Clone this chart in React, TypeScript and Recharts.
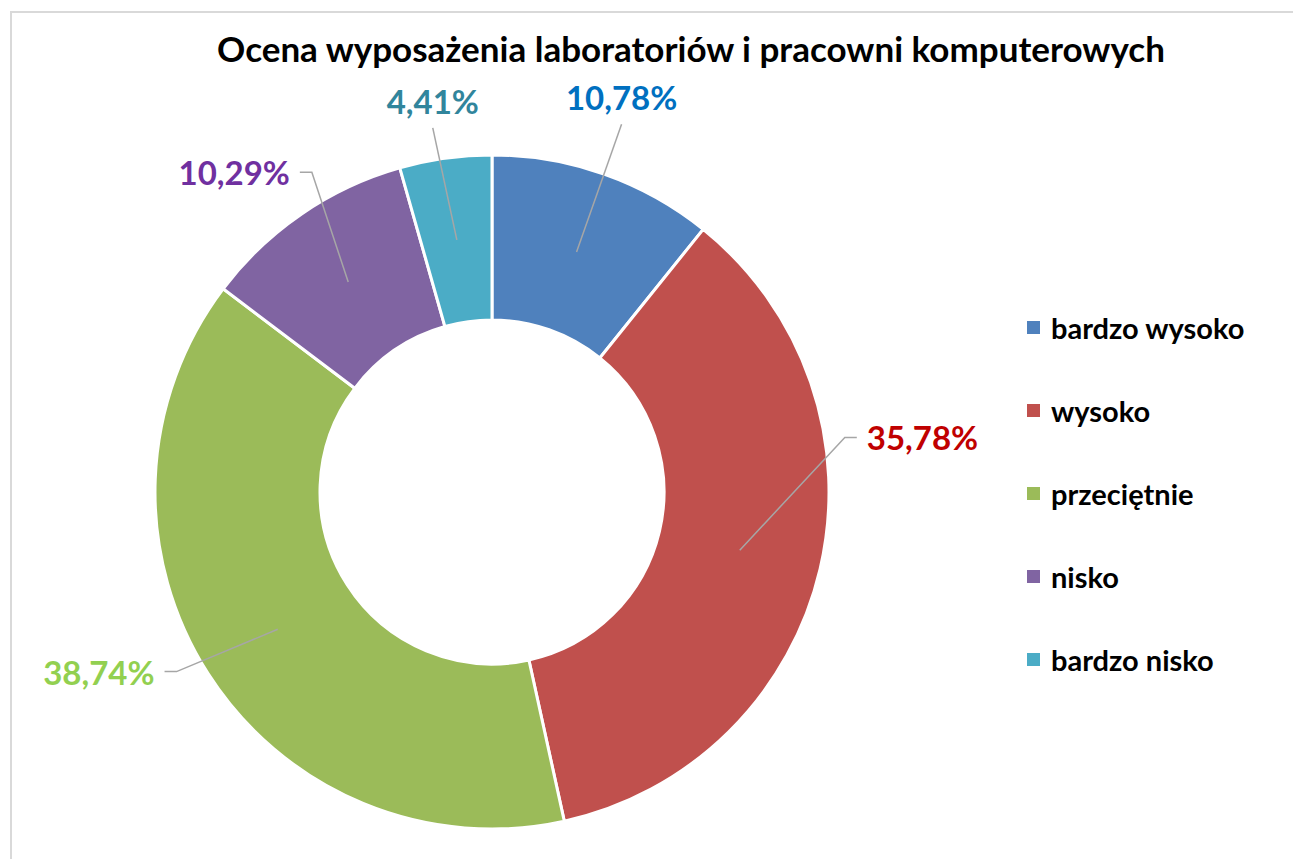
import React from 'react';
import { PieChart, Pie, Cell, Legend } from 'recharts';

const TITLE = 'Ocena wyposażenia laboratoriów i pracowni komputerowych';
const categories = ['bardzo wysoko', 'wysoko', 'przeciętnie', 'nisko', 'bardzo nisko'];
const values = [10.78, 35.78, 38.74, 10.29, 4.41];
const sliceColors = ['#4F81BD', '#C0504D', '#9BBB59', '#8064A2', '#4BACC6'];
const labelColors = ['#0070C0', '#C00000', '#92D050', '#7030A0', '#31859C'];

// label placement: extra radius beyond outer edge, angle shift (deg, recharts convention), side
const labelLayout = [
  { ext: 53, shift: 0, side: 'top' },
  { ext: 20, shift: 22, side: 'right' },
  { ext: 26, shift: -3, side: 'left' },
  { ext: 30, shift: -5, side: 'left' },
  { ext: 32, shift: 1.3, side: 'top' },
];

const data = categories.map((name, i) => ({ name, value: values[i] }));

const FONT = 'Lato, "Open Sans", "Liberation Sans", sans-serif';
const RADIAN = Math.PI / 180;

const fmt = (v: number) => v.toFixed(2).replace('.', ',') + '%';

const renderLabel = (props: any) => {
  const { cx, cy, midAngle, innerRadius, outerRadius, index, value } = props;
  const lay = labelLayout[index];
  const midR = (innerRadius + outerRadius) / 2;
  const sx = cx + midR * Math.cos(-midAngle * RADIAN);
  const sy = cy + midR * Math.sin(-midAngle * RADIAN);
  const a = (midAngle + lay.shift) * RADIAN;
  const er = outerRadius + lay.ext;
  const ex = cx + er * Math.cos(-a);
  const ey = cy + er * Math.sin(-a);
  let points = `${sx},${sy} ${ex},${ey}`;
  let tx = ex;
  let ty = ey - 14;
  let anchor: 'start' | 'middle' | 'end' = 'middle';
  if (lay.side === 'right') {
    points += ` ${ex + 12},${ey}`;
    tx = ex + 22;
    ty = ey + 13;
    anchor = 'start';
  } else if (lay.side === 'left') {
    points += ` ${ex - 12},${ey}`;
    tx = ex - 22;
    ty = ey + 13;
    anchor = 'end';
  }
  return (
    <g key={`lbl-${index}`}>
      <polyline points={points} fill="none" stroke="#A6A6A6" strokeWidth={1.5} />
      <text
        x={tx}
        y={ty}
        textAnchor={anchor}
        fill={labelColors[index]}
        fontFamily={FONT}
        fontWeight={700}
        fontSize={33}
      >
        {fmt(value)}
      </text>
    </g>
  );
};

const renderLegend = (props: any) => {
  const payload = [...(props.payload || [])].sort(
    (a: any, b: any) => categories.indexOf(a.value) - categories.indexOf(b.value)
  );
  return (
    <div style={{ fontFamily: FONT }}>
      {payload.map((entry: any, i: number) => (
        <div
          key={`leg-${i}`}
          style={{ display: 'flex', alignItems: 'center', height: 83 }}
        >
          <span
            style={{
              display: 'inline-block',
              width: 13,
              height: 13,
              background: entry.color,
              marginRight: 11,
            }}
          />
          <span style={{ fontSize: 29, fontWeight: 700, color: '#000' }}>{entry.value}</span>
        </div>
      ))}
    </div>
  );
};

export default function App() {
  return (
    <div style={{ position: 'absolute', left: 0, top: 0, width: 1293, height: 859, background: '#fff', overflow: 'hidden' }}>
      <div
        style={{
          position: 'absolute',
          left: 10,
          top: 11,
          width: 1400,
          height: 1000,
          border: '2px solid #D9D9D9',
        }}
      />
      <div
        style={{
          position: 'absolute',
          left: 0,
          top: 28,
          width: 1382,
          textAlign: 'center',
          fontFamily: FONT,
          fontWeight: 700,
          fontSize: 35,
          color: '#000',
          lineHeight: '40px',
        }}
      >
        {TITLE}
      </div>
      <div style={{ position: 'absolute', left: 0, top: 0 }}>
        <PieChart width={1293} height={859} margin={{ top: 0, right: 0, bottom: 0, left: 0 }}>
          <Pie
            data={data}
            dataKey="value"
            nameKey="name"
            cx={492}
            cy={492}
            innerRadius={172}
            outerRadius={337}
            startAngle={90}
            endAngle={-270}
            stroke="#FFFFFF"
            strokeWidth={3}
            label={renderLabel}
            labelLine={false}
            isAnimationActive={false}
          >
            {data.map((d, i) => (
              <Cell key={`c-${i}`} fill={sliceColors[i]} />
            ))}
          </Pie>
          <Legend
            layout="vertical"
            align="right"
            verticalAlign="top"
            content={renderLegend}
            wrapperStyle={{ left: 1027, top: 286, width: 266 }}
          />
        </PieChart>
      </div>
    </div>
  );
}
